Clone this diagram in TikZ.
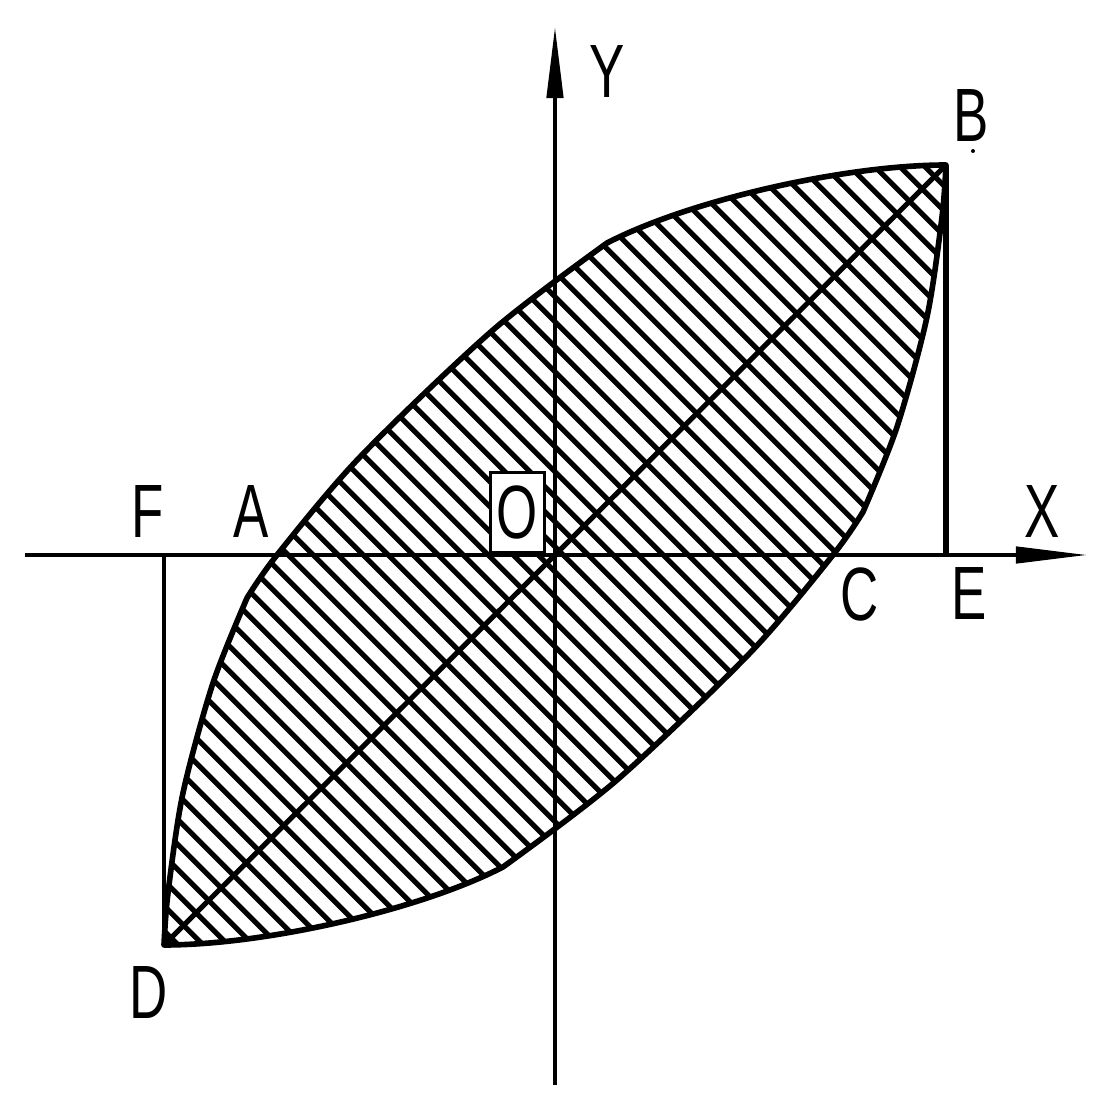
\documentclass[tikz,border=0pt]{standalone}
\usepackage{fontspec}
\setmainfont[FakeStretch=0.7]{Liberation Sans}
\usetikzlibrary{arrows.meta}

% closed loop B -> A -> D -> C -> B
\newcommand*{\hystloop}{%
  (3.91,3.90) .. controls (2.9,3.9) and (1.35,3.55) .. (0.52,3.12)
  -- plot[smooth] coordinates {(0.52,3.12) (-0.62,2.25) (-1.95,0.98) (-2.78,0) (-3.08,-0.43)}
  -- plot[smooth] coordinates {(-3.08,-0.43) (-3.42,-1.28) (-3.72,-2.38) (-3.87,-3.38) (-3.91,-3.90)}
  .. controls (-2.9,-3.9) and (-1.35,-3.55) .. (-0.52,-3.12)
  -- plot[smooth] coordinates {(-0.52,-3.12) (0.62,-2.25) (1.95,-0.98) (2.78,0) (3.08,0.43)}
  -- plot[smooth] coordinates {(3.08,0.43) (3.42,1.28) (3.72,2.38) (3.87,3.38) (3.91,3.90)}
  -- cycle}

\begin{document}
\begin{tikzpicture}[line width=1.3pt,
    lbl/.style={inner sep=0pt, font=\fontsize{21.5}{24}\selectfont},
    axisarrow/.style={-{Triangle[length=7.2mm,width=1.6mm]}}]
  \useasboundingbox (-5.55,-5.47) rectangle (5.58,5.55);
  \coordinate (O) at (0,0);
  \coordinate (B) at (3.91,3.90);
  \coordinate (D) at (-3.91,-3.90);
  \coordinate (E) at (3.91,0);
  \coordinate (F) at (-3.91,0);
  \coordinate (xl) at (-5.30,0);
  \coordinate (xr) at (5.33,0);
  \coordinate (yb) at (0,-5.30);
  \coordinate (yt) at (0,5.29);
  % hatching
  \begin{scope}
    \clip \hystloop;
    \foreach \k in {-35,...,35}
      \draw[line width=1.45pt] (\k*0.25+0.083-4.5,4.5) -- (\k*0.25+0.083+4.5,-4.5);
  \end{scope}
  \draw[line width=1.6pt, line join=round] \hystloop;
  \draw[line width=1.45pt] (D) -- (B);
  \draw[line width=1.5pt] (B) -- (E);
  \draw (F) -- (D);
  % axes
  \draw[axisarrow] (xl) -- (xr);
  \draw[axisarrow] (yb) -- (yt);
  % labels
  \node[lbl] (lY) at (0.52,4.83) {Y};
  \node[lbl] (lB) at (4.16,4.39) {B};
  \fill (4.18,4.04) circle (0.02);
  \node[lbl] (lF) at (-4.07,0.43) {F};
  \node[lbl] (lA) at (-3.04,0.43) {A};
  \node[lbl, draw, fill=white, line width=1.1pt, minimum width=5.4mm, minimum height=8.0mm] (lO) at (-0.375,0.425) {O};
  \node[lbl] (lX) at (4.87,0.43) {X};
  \node[lbl] (lC) at (3.05,-0.39) {C};
  \node[lbl] (lE) at (4.14,-0.39) {E};
  \node[lbl] (lD) at (-4.06,-4.38) {D};
\end{tikzpicture}
\end{document}
